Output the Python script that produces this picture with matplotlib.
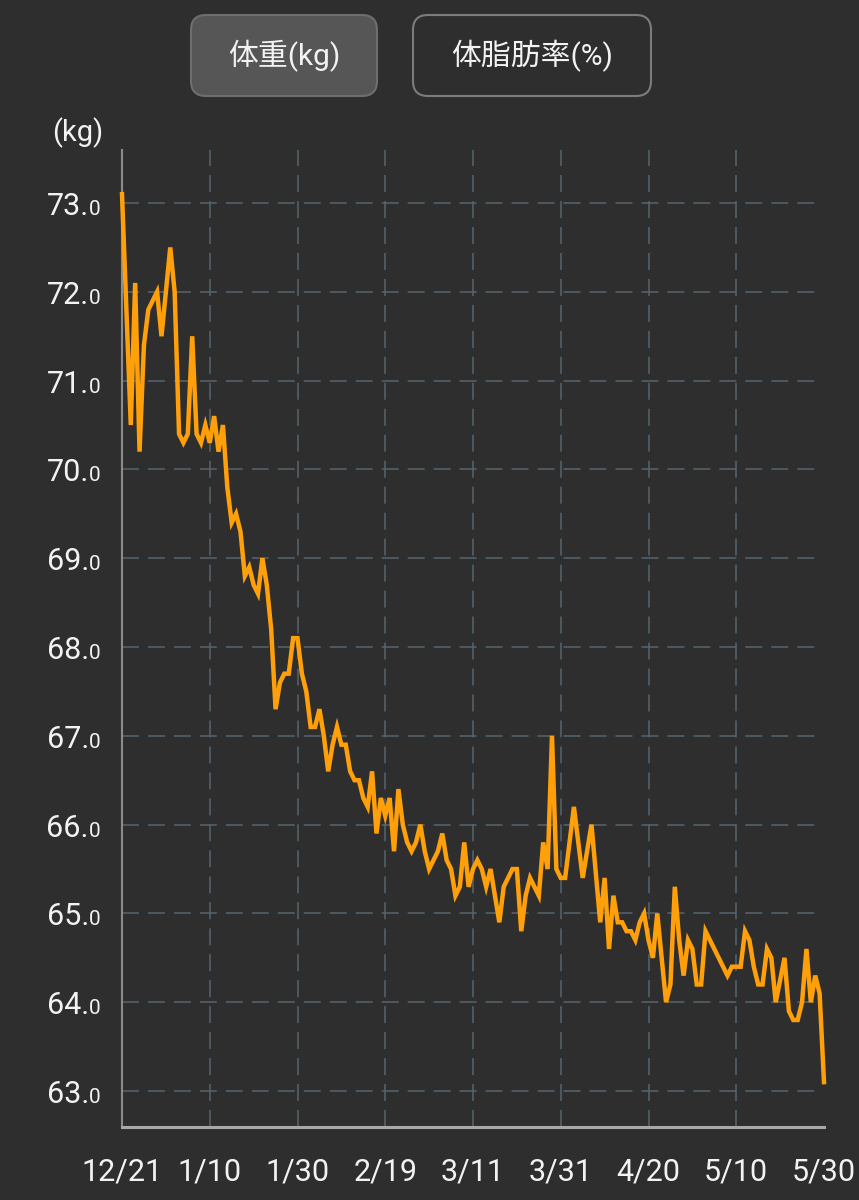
import numpy as np
import matplotlib
matplotlib.use("Agg")
import matplotlib.pyplot as plt
from matplotlib.patches import FancyBboxPatch

# days since 12/21 and body weight (kg)
days = [0, 2, 3, 4, 5, 6, 8, 9, 11, 12, 13, 14, 15, 16, 17, 18, 19, 20, 21, 22,
        23, 24, 25, 26, 27, 28, 29, 30, 31, 32, 33, 34, 35, 36, 37, 38, 39, 40,
        41, 42, 43, 44, 45, 46, 47, 48, 49, 50, 51, 52, 53, 54, 55, 56, 57, 58,
        59, 60, 61, 62, 63, 64, 65, 66, 67, 68, 69, 70, 71, 72, 73, 74, 75, 76,
        77, 78, 79, 80, 81, 82, 83, 84, 85, 86, 87, 88, 89, 90, 91, 92, 93, 94,
        95, 96, 97, 98, 99, 100, 101, 103, 105, 107, 109, 110, 111, 112, 113,
        114, 115, 116, 117, 118, 119, 120, 121, 122, 124, 125, 126, 127, 128,
        129, 130, 131, 132, 133, 138, 139, 140, 141, 142, 143, 144, 145, 146,
        147, 148, 149, 151, 152, 153, 154, 155, 156, 157, 158, 159, 160]
weights = [73.1, 70.5, 72.1, 70.2, 71.4, 71.8, 72.0, 71.5, 72.5, 72.0, 70.4, 70.3,
           70.4, 71.5, 70.4, 70.3, 70.5, 70.3, 70.6, 70.2, 70.5, 69.8, 69.4, 69.5,
           69.3, 68.8, 68.9, 68.7, 68.6, 69.0, 68.7, 68.2, 67.3, 67.6, 67.7, 67.7,
           68.1, 68.1, 67.7, 67.5, 67.1, 67.1, 67.3, 67.0, 66.6, 66.9, 67.1, 66.9,
           66.9, 66.6, 66.5, 66.5, 66.3, 66.2, 66.6, 65.9, 66.3, 66.1, 66.3, 65.7,
           66.4, 66.0, 65.8, 65.7, 65.8, 66.0, 65.7, 65.5, 65.6, 65.7, 65.9, 65.6,
           65.5, 65.2, 65.3, 65.8, 65.3, 65.5, 65.6, 65.5, 65.3, 65.5, 65.2, 64.9,
           65.3, 65.4, 65.5, 65.5, 64.8, 65.2, 65.4, 65.3, 65.2, 65.8, 65.5, 67.0,
           65.5, 65.4, 65.4, 66.2, 65.4, 66.0, 64.9, 65.4, 64.6, 65.2, 64.9, 64.9,
           64.8, 64.8, 64.7, 64.9, 65.0, 64.7, 64.5, 65.0, 64.0, 64.2, 65.3, 64.7,
           64.3, 64.7, 64.6, 64.2, 64.2, 64.8, 64.3, 64.4, 64.4, 64.4, 64.8, 64.7,
           64.4, 64.2, 64.2, 64.6, 64.5, 64.0, 64.5, 63.9, 63.8, 63.8, 64.0, 64.6,
           64.0, 64.3, 64.1, 63.1]

tick_days = [0, 20, 40, 60, 80, 100, 120, 140, 160]
tick_labels = ["12/21", "1/10", "1/30", "2/19", "3/11", "3/31", "4/20", "5/10", "5/30"]
y_ticks = [63, 64, 65, 66, 67, 68, 69, 70, 71, 72, 73]
buttons = ["体重(kg)", "体脂肪率(%)"]

plt.rcParams['font.family'] = ['Roboto', 'Noto Sans CJK JP', 'DejaVu Sans']
plt.rcParams['lines.scale_dashes'] = False

BG = '#2e2e2e'
GRID = '#56656f'
TXT = '#f2f2f2'

fig = plt.figure(figsize=(8.59, 12), dpi=100, facecolor=BG)
ax = fig.add_axes([122 / 859, 1 - 1127 / 1200, (824 - 122) / 859, (1127 - 150) / 1200])
ax.set_facecolor(BG)
ax.set_xlim(0, 160)
ax.set_ylim(62.595, 73.597)

dash = (0, (12.2, 6.5))
for v in y_ticks:
    ax.axhline(v, xmin=0, xmax=0.992, color=GRID, lw=1.1, ls=dash, zorder=1)
for d in tick_days[1:-1]:
    ax.axvline(d, color=GRID, lw=1.1, ls=dash, zorder=1)

ax.plot(days, weights, color='#ffa00a', lw=3.2, solid_joinstyle='miter',
        zorder=3, clip_on=False)

for s in ['top', 'right']:
    ax.spines[s].set_visible(False)
ax.spines['left'].set_color('#8c8c8c')
ax.spines['left'].set_linewidth(1.5)
ax.spines['bottom'].set_color('#a8a8a8')
ax.spines['bottom'].set_linewidth(2.2)

ax.set_xticks(tick_days, tick_labels)
ax.tick_params(axis='x', length=0, pad=22, labelsize=22, labelcolor=TXT)
ax.set_yticks(y_ticks)
ax.set_yticklabels([])
ax.tick_params(axis='y', length=0)

# y labels: "73." with a smaller trailing "0"
for v in y_ticks:
    ax.annotate(f"{v}.", xy=(0, v), xycoords=ax.get_yaxis_transform(),
                xytext=(-33, -12), textcoords='offset pixels',
                ha='right', va='baseline', fontsize=22, color=TXT)
    ax.annotate("0", xy=(0, v), xycoords=ax.get_yaxis_transform(),
                xytext=(-33, -12), textcoords='offset pixels',
                ha='left', va='baseline', fontsize=15, color=TXT)

fig.text(78 / 859, 1 - 133 / 1200, "(kg)", ha='center', va='center',
         fontsize=21, color=TXT)

# toggle buttons
tr = fig.dpi_scale_trans
b1 = FancyBboxPatch((1.91, 11.04), 1.86, 0.81,
                    boxstyle="round,pad=0,rounding_size=0.15",
                    transform=tr, facecolor='#565656', edgecolor='#6e6e6e', lw=1.5)
b2 = FancyBboxPatch((4.13, 11.04), 2.38, 0.81,
                    boxstyle="round,pad=0,rounding_size=0.15",
                    transform=tr, facecolor=BG, edgecolor='#7c7c7c', lw=1.5)
fig.patches.extend([b1, b2])
fig.text(2.84, 11.44, buttons[0], transform=tr, ha='center', va='center',
         fontsize=21.5, color=TXT)
fig.text(5.32, 11.44, buttons[1], transform=tr, ha='center', va='center',
         fontsize=21.5, color=TXT)

fig.savefig('out.png', dpi=100, facecolor=BG)
